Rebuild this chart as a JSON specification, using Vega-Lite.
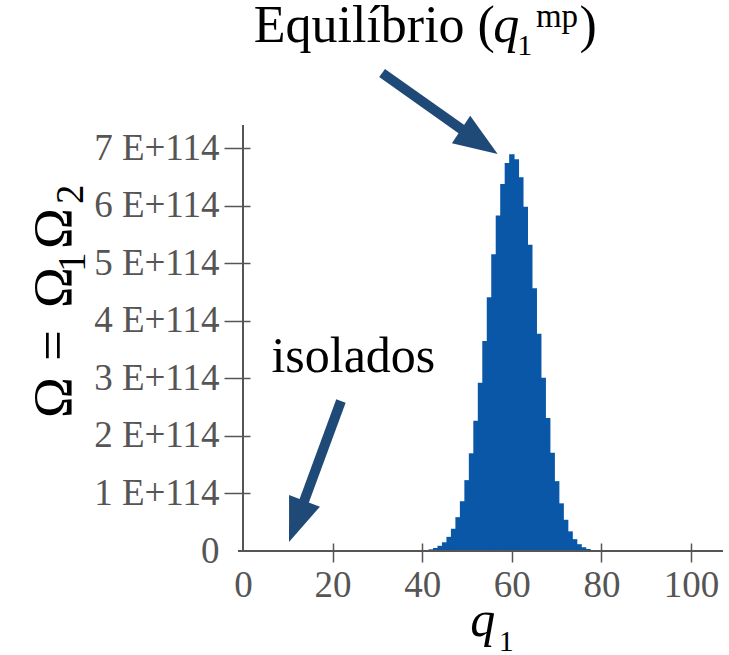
{
  "$schema": "https://vega.github.io/schema/vega-lite/v6.json",
  "width": 485,
  "height": 426,
  "autosize": {"type": "none"},
  "padding": {"left": 238, "top": 125, "right": 6, "bottom": 104},
  "background": "white",
  "config": {
    "view": {"stroke": null},
    "text": {"font": "Liberation Serif"},
    "axis": {
      "domain": false,
      "grid": false,
      "labelFont": "Liberation Serif",
      "labelFontSize": 37,
      "labelColor": "#555555",
      "tickColor": "#555555",
      "tickWidth": 1.5
    }
  },
  "data": {
    "values": [
      {"q": 0, "omega": 0}, {"q": 1, "omega": 0}, {"q": 2, "omega": 0}, {"q": 3, "omega": 0}, {"q": 4, "omega": 0},
      {"q": 5, "omega": 0}, {"q": 6, "omega": 0}, {"q": 7, "omega": 0}, {"q": 8, "omega": 0}, {"q": 9, "omega": 0},
      {"q": 10, "omega": 0}, {"q": 11, "omega": 0}, {"q": 12, "omega": 0}, {"q": 13, "omega": 0}, {"q": 14, "omega": 0},
      {"q": 15, "omega": 0}, {"q": 16, "omega": 0}, {"q": 17, "omega": 0}, {"q": 18, "omega": 0}, {"q": 19, "omega": 0},
      {"q": 20, "omega": 0}, {"q": 21, "omega": 0}, {"q": 22, "omega": 0}, {"q": 23, "omega": 0}, {"q": 24, "omega": 0},
      {"q": 25, "omega": 0}, {"q": 26, "omega": 0}, {"q": 27, "omega": 0}, {"q": 28, "omega": 0}, {"q": 29, "omega": 0},
      {"q": 30, "omega": 0}, {"q": 31, "omega": 0}, {"q": 32, "omega": 0}, {"q": 33, "omega": 0}, {"q": 34, "omega": 0},
      {"q": 35, "omega": 1.84e+110}, {"q": 36, "omega": 4.21e+110}, {"q": 37, "omega": 9.3e+110}, {"q": 38, "omega": 1.98e+111},
      {"q": 39, "omega": 4.08e+111}, {"q": 40, "omega": 8.12e+111}, {"q": 41, "omega": 1.56e+112}, {"q": 42, "omega": 2.9e+112},
      {"q": 43, "omega": 5.2e+112}, {"q": 44, "omega": 9.02e+112}, {"q": 45, "omega": 1.515e+113}, {"q": 46, "omega": 2.46e+113},
      {"q": 47, "omega": 3.865e+113}, {"q": 48, "omega": 5.877e+113}, {"q": 49, "omega": 8.647e+113}, {"q": 50, "omega": 1.231e+114},
      {"q": 51, "omega": 1.697e+114}, {"q": 52, "omega": 2.263e+114}, {"q": 53, "omega": 2.921e+114}, {"q": 54, "omega": 3.648e+114},
      {"q": 55, "omega": 4.408e+114}, {"q": 56, "omega": 5.154e+114}, {"q": 57, "omega": 5.829e+114}, {"q": 58, "omega": 6.375e+114},
      {"q": 59, "omega": 6.741e+114}, {"q": 60, "omega": 6.89e+114}, {"q": 61, "omega": 6.805e+114}, {"q": 62, "omega": 6.493e+114},
      {"q": 63, "omega": 5.982e+114}, {"q": 64, "omega": 5.319e+114}, {"q": 65, "omega": 4.563e+114}, {"q": 66, "omega": 3.775e+114},
      {"q": 67, "omega": 3.009e+114}, {"q": 68, "omega": 2.31e+114}, {"q": 69, "omega": 1.707e+114}, {"q": 70, "omega": 1.213e+114},
      {"q": 71, "omega": 8.28e+113}, {"q": 72, "omega": 5.427e+113}, {"q": 73, "omega": 3.411e+113}, {"q": 74, "omega": 2.054e+113},
      {"q": 75, "omega": 1.184e+113}, {"q": 76, "omega": 6.52e+112}, {"q": 77, "omega": 3.43e+112}, {"q": 78, "omega": 1.72e+112},
      {"q": 79, "omega": 8.2e+111}, {"q": 80, "omega": 3.7e+111}, {"q": 81, "omega": 1.6e+111}, {"q": 82, "omega": 6.4e+110},
      {"q": 83, "omega": 2.5e+110}, {"q": 84, "omega": 9e+109}, {"q": 85, "omega": 0}, {"q": 86, "omega": 0},
      {"q": 87, "omega": 0}, {"q": 88, "omega": 0}, {"q": 89, "omega": 0}, {"q": 90, "omega": 0}, {"q": 91, "omega": 0},
      {"q": 92, "omega": 0}, {"q": 93, "omega": 0}, {"q": 94, "omega": 0}, {"q": 95, "omega": 0}, {"q": 96, "omega": 0},
      {"q": 97, "omega": 0}, {"q": 98, "omega": 0}, {"q": 99, "omega": 0}, {"q": 100, "omega": 0}
    ]
  },
  "layer": [
    {
      "mark": {"type": "bar", "width": 5.4, "color": "#0a57a8", "clip": false},
      "encoding": {
        "x": {
          "field": "q",
          "type": "quantitative",
          "scale": {"domain": [0, 106], "nice": false, "zero": false},
          "axis": {
            "title": null,
            "values": [0, 20, 40, 60, 80, 100],
            "offset": -8,
            "tickSize": 19,
            "labelPadding": 5,
            "tickOpacity": {"condition": {"test": "datum.value == 0", "value": 0}, "value": 1}
          }
        },
        "y": {
          "field": "omega",
          "type": "quantitative",
          "scale": {"domain": [0, 7.4e+114], "nice": false},
          "axis": {
            "title": null,
            "values": [0, 1e+114, 2e+114, 3e+114, 4e+114, 5e+114, 6e+114, 7e+114],
            "labelExpr": "datum.value == 0 ? '0' : format(datum.value / 1e114, '.0f') + ' E+114'",
            "offset": -12,
            "tickSize": 26,
            "labelPadding": 5,
            "tickOpacity": {"condition": {"test": "datum.value == 0", "value": 0}, "value": 1}
          }
        }
      }
    },
    {
      "data": {"values": [{}]},
      "mark": {"type": "rule", "color": "#555555", "strokeWidth": 2},
      "encoding": {"x": {"datum": 0}}
    },
    {
      "data": {"values": [{}]},
      "mark": {"type": "rule", "color": "#555555", "strokeWidth": 2},
      "encoding": {"y": {"datum": 0}}
    },
    {
      "data": {"values": [{}]},
      "mark": {"type": "rule", "color": "#1f4a78", "strokeWidth": 10, "strokeCap": "butt", "clip": false},
      "encoding": {
        "x": {"datum": 31.04}, "x2": {"datum": 49.92},
        "y": {"datum": 8.303e+114}, "y2": {"datum": 7.262e+114}
      }
    },
    {
      "data": {"values": [{}]},
      "mark": {"type": "point", "shape": "M0,0L0.75,2L-0.75,2Z", "filled": true, "opacity": 1, "color": "#1f4a78", "size": 1936, "angle": 123.7, "clip": false},
      "encoding": {"x": {"datum": 56.83}, "y": {"datum": 6.896e+114}}
    },
    {
      "data": {"values": [{}]},
      "mark": {"type": "rule", "color": "#1f4a78", "strokeWidth": 10, "strokeCap": "butt", "clip": false},
      "encoding": {
        "x": {"datum": 21.86}, "x2": {"datum": 13.2},
        "y": {"datum": 2.606e+114}, "y2": {"datum": 0.775e+114}
      }
    },
    {
      "data": {"values": [{}]},
      "mark": {"type": "point", "shape": "M0,0L0.75,2L-0.75,2Z", "filled": true, "opacity": 1, "color": "#1f4a78", "size": 1936, "angle": 200.6, "clip": false},
      "encoding": {"x": {"datum": 10.27}, "y": {"datum": 0.156e+114}}
    },
    {
      "data": {"values": [{}]},
      "mark": {"type": "text", "font": "Liberation Serif", "fontSize": 50, "align": "left", "baseline": "alphabetic", "color": "black", "clip": false},
      "encoding": {"x": {"datum": 6.34}, "y": {"datum": 3.109e+114}, "text": {"value": "isolados"}}
    },
    {
      "data": {"values": [{}]},
      "mark": {"type": "text", "font": "Liberation Serif", "fontSize": 52, "align": "left", "baseline": "alphabetic", "color": "black", "clip": false},
      "encoding": {"x": {"datum": 2.4}, "y": {"datum": 8.842e+114}, "text": {"value": "Equilíbrio ("}}
    },
    {
      "data": {"values": [{}]},
      "mark": {"type": "text", "font": "Liberation Serif", "fontSize": 52, "fontStyle": "italic", "align": "left", "baseline": "alphabetic", "color": "black", "clip": false},
      "encoding": {"x": {"datum": 55.85}, "y": {"datum": 8.842e+114}, "text": {"value": "q"}}
    },
    {
      "data": {"values": [{}]},
      "mark": {"type": "text", "font": "Liberation Serif", "fontSize": 30, "align": "left", "baseline": "alphabetic", "color": "black", "clip": false},
      "encoding": {"x": {"datum": 61.2}, "y": {"datum": 8.616e+114}, "text": {"value": "1"}}
    },
    {
      "data": {"values": [{}]},
      "mark": {"type": "text", "font": "Liberation Serif", "fontSize": 33, "align": "left", "baseline": "alphabetic", "color": "black", "clip": false},
      "encoding": {"x": {"datum": 65.36}, "y": {"datum": 9.102e+114}, "text": {"value": "mp"}}
    },
    {
      "data": {"values": [{}]},
      "mark": {"type": "text", "font": "Liberation Serif", "fontSize": 52, "align": "left", "baseline": "alphabetic", "color": "black", "clip": false},
      "encoding": {"x": {"datum": 75.1}, "y": {"datum": 8.842e+114}, "text": {"value": ")"}}
    },
    {
      "data": {"values": [{}]},
      "mark": {"type": "text", "font": "Liberation Serif", "fontSize": 50, "fontStyle": "italic", "align": "left", "baseline": "alphabetic", "color": "black", "clip": false},
      "encoding": {"x": {"datum": 50.71}, "y": {"datum": -1.476e+114}, "text": {"value": "q"}}
    },
    {
      "data": {"values": [{}]},
      "mark": {"type": "text", "font": "Liberation Serif", "fontSize": 30, "align": "left", "baseline": "alphabetic", "color": "black", "clip": false},
      "encoding": {"x": {"datum": 57.05}, "y": {"datum": -1.737e+114}, "text": {"value": "1"}}
    },
    {
      "data": {"values": [{}]},
      "mark": {"type": "text", "font": "Liberation Serif", "fontSize": 55, "angle": 270, "align": "left", "baseline": "alphabetic", "color": "black", "clip": false},
      "encoding": {"x": {"datum": -38.47}, "y": {"datum": 2.31e+114}, "text": {"value": "Ω"}}
    },
    {
      "data": {"values": [{}]},
      "mark": {"type": "text", "font": "Liberation Serif", "fontSize": 55, "angle": 270, "align": "left", "baseline": "alphabetic", "color": "black", "clip": false},
      "encoding": {"x": {"datum": -38.47}, "y": {"datum": 3.3e+114}, "text": {"value": "="}}
    },
    {
      "data": {"values": [{}]},
      "mark": {"type": "text", "font": "Liberation Serif", "fontSize": 55, "angle": 270, "align": "left", "baseline": "alphabetic", "color": "black", "clip": false},
      "encoding": {"x": {"datum": -38.47}, "y": {"datum": 4.221e+114}, "text": {"value": "Ω"}}
    },
    {
      "data": {"values": [{}]},
      "mark": {"type": "text", "font": "Liberation Serif", "fontSize": 39, "angle": 270, "align": "left", "baseline": "alphabetic", "color": "black", "clip": false},
      "encoding": {"x": {"datum": -35.19}, "y": {"datum": 4.846e+114}, "text": {"value": "1"}}
    },
    {
      "data": {"values": [{}]},
      "mark": {"type": "text", "font": "Liberation Serif", "fontSize": 55, "angle": 270, "align": "left", "baseline": "alphabetic", "color": "black", "clip": false},
      "encoding": {"x": {"datum": -38.47}, "y": {"datum": 5.246e+114}, "text": {"value": "Ω"}}
    },
    {
      "data": {"values": [{}]},
      "mark": {"type": "text", "font": "Liberation Serif", "fontSize": 39, "angle": 270, "align": "left", "baseline": "alphabetic", "color": "black", "clip": false},
      "encoding": {"x": {"datum": -35.63}, "y": {"datum": 6.027e+114}, "text": {"value": "2"}}
    }
  ]
}
